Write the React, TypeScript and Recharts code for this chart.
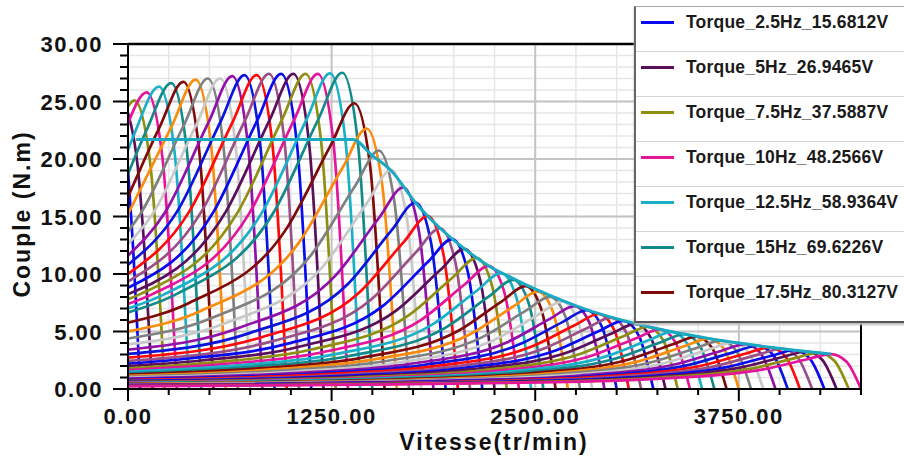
import React from 'react';
import { CartesianGrid, Line, LineChart, ReferenceLine, XAxis, YAxis } from 'recharts';

// frequency of each torque curve (Hz), 2.5 Hz steps
const FREQS = [
  2.5, 5, 7.5, 10, 12.5, 15, 17.5, 20, 22.5, 25, 27.5, 30, 32.5, 35, 37.5, 40, 42.5, 45, 47.5, 50,
  52.5, 55, 57.5, 60, 62.5, 65, 67.5, 70, 72.5, 75, 77.5, 80, 82.5, 85, 87.5, 90, 92.5, 95, 97.5, 100,
  102.5, 105, 107.5, 110, 112.5, 115, 117.5, 120, 122.5, 125, 127.5, 130, 132.5, 135, 137.5, 140, 142.5, 145, 147.5, 150
];

// [speed tr/min, torque N.m] for each curve
const CURVES: [number, number][][] = [
  [[0, 19], [35, 11.3], [55, 5.8], [75, 0]],
  [[0, 24], [60, 19.3], [100, 12.3], [150, 0]],
  [[0, 24.6], [40, 25.1], [135, 19.8], [225, 0]],
  [[0, 23.1], [115, 25.8], [210, 20.3], [300, 0]],
  [[0, 20.8], [45, 22.4], [190, 26.3], [285, 20.7], [375, 0]],
  [[0, 18.7], [120, 22.7], [265, 26.6], [360, 20.9], [450, 0]],
  [[0, 16.7], [195, 22.8], [340, 26.7], [435, 21.0], [525, 0]],
  [[0, 15.2], [270, 22.9], [415, 26.9], [510, 21.2], [600, 0]],
  [[0, 13.7], [75, 15.2], [345, 23.0], [490, 27.0], [585, 21.2], [675, 0]],
  [[0, 12.6], [150, 15.2], [420, 23.0], [565, 27.0], [660, 21.2], [750, 0]],
  [[0, 11.6], [225, 15.3], [495, 23.2], [640, 27.2], [735, 21.4], [825, 0]],
  [[0, 10.8], [300, 15.4], [570, 23.3], [715, 27.3], [810, 21.5], [900, 0]],
  [[0, 10.0], [375, 15.4], [645, 23.3], [790, 27.3], [885, 21.5], [975, 0]],
  [[0, 9.35], [450, 15.4], [720, 23.4], [865, 27.4], [960, 21.6], [1050, 0]],
  [[0, 8.8], [525, 15.4], [795, 23.4], [940, 27.4], [1035, 21.6], [1125, 0]],
  [[0, 8.25], [600, 15.4], [870, 23.4], [1015, 27.4], [1110, 21.6], [1200, 0]],
  [[0, 7.8], [75, 8.25], [675, 15.4], [945, 23.4], [1090, 27.4], [1185, 21.6], [1275, 0]],
  [[0, 7.4], [150, 8.25], [750, 15.4], [1020, 23.4], [1165, 27.4], [1260, 21.6], [1350, 0]],
  [[0, 7.0], [225, 8.25], [825, 15.4], [1095, 23.4], [1240, 27.45], [1335, 21.6], [1425, 0]],
  [[0, 6.66], [300, 8.27], [900, 15.5], [1170, 23.5], [1315, 27.5], [1410, 21.6], [1500, 0]],
  [[0, 5.76], [375, 7.48], [975, 13.99], [1245, 21.2], [1390, 24.85], [1485, 19.56], [1575, 0]],
  [[0, 5.01], [450, 6.81], [1050, 12.75], [1320, 19.31], [1465, 22.64], [1560, 17.82], [1650, 0]],
  [[0, 4.39], [525, 6.24], [1125, 11.67], [1395, 17.67], [1540, 20.72], [1635, 16.31], [1725, 0]],
  [[0, 3.87], [600, 5.73], [1200, 10.71], [1470, 16.23], [1615, 19.03], [1710, 14.98], [1800, 0]],
  [[0, 3.43], [675, 5.28], [1275, 9.88], [1545, 14.96], [1690, 17.54], [1785, 13.8], [1875, 0]],
  [[0, 3.05], [750, 4.88], [1350, 9.13], [1620, 13.83], [1765, 16.21], [1860, 12.76], [1950, 0]],
  [[0, 2.72], [825, 4.52], [1425, 8.46], [1695, 12.82], [1840, 15.03], [1935, 11.83], [2025, 0]],
  [[0, 2.44], [900, 4.21], [1500, 7.87], [1770, 11.92], [1915, 13.98], [2010, 11.0], [2100, 0]],
  [[0, 2.2], [375, 2.65], [975, 3.92], [1575, 7.34], [1845, 11.11], [1990, 13.03], [2085, 10.25], [2175, 0]],
  [[0, 1.99], [450, 2.48], [1050, 3.67], [1650, 6.86], [1920, 10.39], [2065, 12.18], [2160, 9.59], [2250, 0]],
  [[0, 1.8], [525, 2.32], [1125, 3.43], [1725, 6.42], [1995, 9.72], [2140, 11.4], [2235, 8.97], [2325, 0]],
  [[0, 1.64], [600, 2.18], [1200, 3.22], [1800, 6.02], [2070, 9.13], [2215, 10.7], [2310, 8.42], [2400, 0]],
  [[0, 1.5], [675, 2.05], [1275, 3.03], [1875, 5.67], [2145, 8.59], [2290, 10.07], [2385, 7.93], [2475, 0]],
  [[0, 1.37], [750, 1.93], [1350, 2.85], [1950, 5.34], [2220, 8.09], [2365, 9.48], [2460, 7.46], [2550, 0]],
  [[0, 1.26], [825, 1.82], [1425, 2.69], [2025, 5.04], [2295, 7.63], [2440, 8.95], [2535, 7.04], [2625, 0]],
  [[0, 1.15], [900, 1.72], [1500, 2.55], [2100, 4.76], [2370, 7.22], [2515, 8.46], [2610, 6.66], [2700, 0]],
  [[0, 1.06], [975, 1.63], [1575, 2.41], [2175, 4.51], [2445, 6.83], [2590, 8.01], [2685, 6.3], [2775, 0]],
  [[0, 0.98], [1050, 1.54], [1650, 2.28], [2250, 4.27], [2520, 6.47], [2665, 7.59], [2760, 5.97], [2850, 0]],
  [[0, 0.91], [1125, 1.47], [1725, 2.17], [2325, 4.05], [2595, 6.14], [2740, 7.2], [2835, 5.67], [2925, 0]],
  [[0, 0.84], [1200, 1.39], [1800, 2.06], [2400, 3.86], [2670, 5.84], [2815, 6.85], [2910, 5.39], [3000, 0]],
  [[0, 0.78], [1275, 1.33], [1875, 1.96], [2475, 3.67], [2745, 5.56], [2890, 6.52], [2985, 5.13], [3075, 0]],
  [[0, 0.73], [1350, 1.26], [1950, 1.87], [2550, 3.5], [2820, 5.3], [2965, 6.21], [3060, 4.89], [3150, 0]],
  [[0, 0.68], [1425, 1.21], [2025, 1.78], [2625, 3.34], [2895, 5.06], [3040, 5.93], [3135, 4.67], [3225, 0]],
  [[0, 0.63], [1500, 1.15], [2100, 1.7], [2700, 3.19], [2970, 4.83], [3115, 5.66], [3210, 4.45], [3300, 0]],
  [[0, 0.59], [1575, 1.1], [2175, 1.63], [2775, 3.05], [3045, 4.61], [3190, 5.41], [3285, 4.26], [3375, 0]],
  [[0, 0.55], [1650, 1.05], [2250, 1.56], [2850, 2.92], [3120, 4.42], [3265, 5.18], [3360, 4.08], [3450, 0]],
  [[0, 0.52], [1725, 1.01], [2325, 1.49], [2925, 2.79], [3195, 4.23], [3340, 4.96], [3435, 3.9], [3525, 0]],
  [[0, 0.49], [1800, 0.97], [2400, 1.43], [3000, 2.68], [3270, 4.06], [3415, 4.76], [3510, 3.75], [3600, 0]],
  [[0, 0.46], [1875, 0.93], [2475, 1.37], [3075, 2.57], [3345, 3.89], [3490, 4.56], [3585, 3.59], [3675, 0]],
  [[0, 0.43], [1950, 0.89], [2550, 1.32], [3150, 2.47], [3420, 3.74], [3565, 4.38], [3660, 3.45], [3750, 0]],
  [[0, 0.41], [2025, 0.86], [2625, 1.27], [3225, 2.37], [3495, 3.59], [3640, 4.21], [3735, 3.31], [3825, 0]],
  [[0, 0.38], [2100, 0.82], [2700, 1.22], [3300, 2.28], [3570, 3.45], [3715, 4.05], [3810, 3.19], [3900, 0]],
  [[0, 0.36], [2175, 0.79], [2775, 1.17], [3375, 2.2], [3645, 3.33], [3790, 3.9], [3885, 3.07], [3975, 0]],
  [[0, 0.34], [2250, 0.77], [2850, 1.13], [3450, 2.12], [3720, 3.21], [3865, 3.76], [3960, 2.96], [4050, 0]],
  [[0, 0.32], [2325, 0.74], [2925, 1.09], [3525, 2.04], [3795, 3.09], [3940, 3.62], [4035, 2.85], [4125, 0]],
  [[0, 0.31], [2400, 0.71], [3000, 1.05], [3600, 1.97], [3870, 2.99], [4015, 3.5], [4110, 2.75], [4200, 0]],
  [[0, 0.29], [2475, 0.69], [3075, 1.01], [3675, 1.9], [3945, 2.87], [4090, 3.37], [4185, 2.65], [4275, 0]],
  [[0, 0.28], [2550, 0.66], [3150, 0.98], [3750, 1.84], [4020, 2.78], [4165, 3.26], [4260, 2.57], [4350, 0]],
  [[0, 0.26], [2625, 0.64], [3225, 0.95], [3825, 1.77], [4095, 2.69], [4240, 3.15], [4335, 2.48], [4425, 0]],
  [[0, 0.25], [2700, 0.62], [3300, 0.92], [3900, 1.71], [4170, 2.59], [4315, 3.04], [4410, 2.39], [4500, 0]]
];

// torque limit curve (cyan, drawn on top)
const ENVELOPE: [number, number][] = [
  [50, 21.7], [1380, 21.7], [1500, 20.3], [1615, 19.0], [1765, 16.2], [1915, 14.0], [2065, 12.2],
  [2215, 10.7], [2365, 9.6], [2515, 8.6], [2665, 7.7], [2815, 6.9], [2965, 6.25], [3115, 5.7],
  [3265, 5.2], [3415, 4.78], [3565, 4.4], [3715, 4.06], [3865, 3.77], [4015, 3.5], [4165, 3.26], [4315, 3.05]
];

const COLORS = [
  '#0a0aee', '#5a0f5a', '#8e8e10', '#e4159a', '#1ab0c8', '#128a8a', '#7f0a0a',
  '#f98c0e', '#808080', '#c8c8c8', '#9010a8', '#0a14dd', '#ff0a0a', '#9a4f86'
];

const LEGEND_LABELS = [
  'Torque_2.5Hz_15.6812V',
  'Torque_5Hz_26.9465V',
  'Torque_7.5Hz_37.5887V',
  'Torque_10Hz_48.2566V',
  'Torque_12.5Hz_58.9364V',
  'Torque_15Hz_69.6226V',
  'Torque_17.5Hz_80.3127V'
];

const X_TICKS = [0, 250, 500, 750, 1000, 1250, 1500, 1750, 2000, 2250, 2500, 2750, 3000, 3250, 3500, 3750, 4000, 4250, 4500];
const X_MAJOR = [1250, 2500, 3750];
const Y_TICKS = [0, 1, 2, 3, 4, 5, 6, 7, 8, 9, 10, 11, 12, 13, 14, 15, 16, 17, 18, 19, 20, 21, 22, 23, 24, 25, 26, 27, 28, 29, 30];
const Y_MAJOR = [5, 10, 15, 20, 25];

const FONT = '"Liberation Sans", Arial, sans-serif';

const toRows = (pts: [number, number][]) => pts.map(([x, y]) => ({ x, y }));

const XTick = (props: any) => {
  const { x, y, payload } = props;
  const major = payload.value % 1250 === 0 && payload.value < 4500;
  return (
    <g>
      <line x1={x} x2={x} y1={y} y2={y + (major ? 12 : 6)} stroke="#000" strokeWidth={2} />
      {major && (
        <text x={x} y={y + 35} textAnchor="middle" fontFamily={FONT} fontWeight="bold" fontSize={22} letterSpacing={1.5} fill="#111">
          {payload.value.toFixed(2)}
        </text>
      )}
    </g>
  );
};

const YTick = (props: any) => {
  const { x, y, payload } = props;
  const major = payload.value % 5 === 0;
  return (
    <g>
      <line x1={x - (major ? 15 : 8)} x2={x} y1={y} y2={y} stroke="#000" strokeWidth={2} />
      {major && (
        <text x={x - 25} y={y + 8} textAnchor="end" fontFamily={FONT} fontWeight="bold" fontSize={22} letterSpacing={1.5} fill="#111">
          {payload.value.toFixed(2)}
        </text>
      )}
    </g>
  );
};

export default function App() {
  return (
    <div style={{ position: 'absolute', left: 0, top: 0, width: 904, height: 459, background: '#fff', overflow: 'hidden' }}>
      <LineChart width={904} height={459} margin={{ top: 44, right: 43, bottom: 0, left: 0 }}>
        <CartesianGrid stroke="#e6e6e6" strokeWidth={1.5} verticalValues={X_TICKS} horizontalValues={Y_TICKS} />
        <CartesianGrid stroke="#c4c4c4" strokeWidth={2} verticalValues={X_MAJOR} horizontalValues={Y_MAJOR} />
        <XAxis
          type="number"
          dataKey="x"
          domain={[0, 4500]}
          ticks={X_TICKS}
          interval={0}
          allowDataOverflow
          height={70}
          tickSize={0}
          tickMargin={0}
          tickLine={false}
          tick={<XTick />}
          axisLine={{ stroke: '#000', strokeWidth: 2 }}
        />
        <YAxis
          type="number"
          dataKey="y"
          domain={[0, 30]}
          ticks={Y_TICKS}
          interval={0}
          allowDataOverflow
          width={128}
          tickSize={0}
          tickMargin={0}
          tickLine={false}
          tick={<YTick />}
          axisLine={{ stroke: '#000', strokeWidth: 2 }}
        />
        {CURVES.map((pts, i) => (
          <Line
            key={FREQS[i]}
            name={`Torque_${FREQS[i]}Hz`}
            data={toRows(pts)}
            dataKey="y"
            type="monotone"
            stroke={COLORS[i % COLORS.length]}
            strokeWidth={2.7}
            dot={false}
            activeDot={false}
            isAnimationActive={false}
          />
        ))}
        <Line
          name="Torque_limit"
          data={toRows(ENVELOPE)}
          dataKey="y"
          type="monotone"
          stroke="#19a9c2"
          strokeWidth={3}
          dot={false}
          activeDot={false}
          isAnimationActive={false}
        />
        <ReferenceLine y={30} stroke="#000" strokeWidth={2.5} />
        <ReferenceLine x={4500} stroke="#000" strokeWidth={2} />
        <text x={30} y={214} transform="rotate(-90 30 214)" textAnchor="middle" fontFamily={FONT} fontWeight="bold" fontSize={23} letterSpacing={2} fill="#111">
          Couple (N.m)
        </text>
        <text x={494} y={450} textAnchor="middle" fontFamily={FONT} fontWeight="bold" fontSize={23} letterSpacing={2} fill="#111">
          Vitesse(tr/min)
        </text>
      </LineChart>

      <div
        style={{
          position: 'absolute',
          left: 634,
          top: 6,
          width: 290,
          height: 314,
          background: '#fff',
          borderLeft: '2px solid #666',
          borderTop: '1px solid #aaa',
          borderBottom: '2px solid #555',
          boxShadow: '0 2px 2px #bbb'
        }}
      >
        {LEGEND_LABELS.map((label, i) => (
          <div
            key={label}
            style={{
              position: 'relative',
              height: 45,
              borderBottom: i < LEGEND_LABELS.length - 1 ? '1.5px solid #d4d4d4' : 'none',
              boxSizing: 'border-box'
            }}
          >
            <div style={{ position: 'absolute', left: 5, top: 14, width: 33, height: 3, background: COLORS[i] }} />
            <div
              style={{
                position: 'absolute',
                left: 50,
                top: 5,
                fontFamily: FONT,
                fontWeight: 'bold',
                fontSize: 17.5,
                letterSpacing: 0.2,
                lineHeight: '20px',
                color: '#1a1a1a',
                whiteSpace: 'nowrap'
              }}
            >
              {label}
            </div>
          </div>
        ))}
      </div>
    </div>
  );
}
